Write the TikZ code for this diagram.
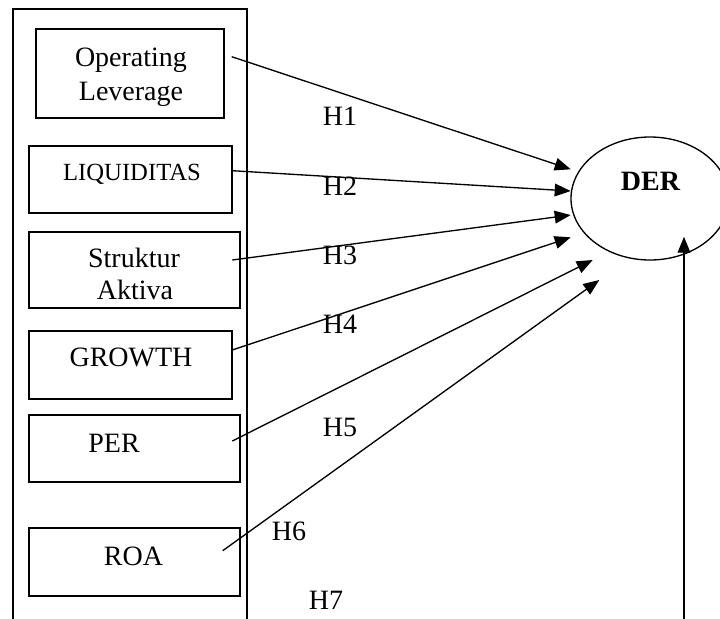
\documentclass[tikz,border=0pt]{standalone}
\usepackage{fontspec}
\setmainfont{Liberation Serif}
\usetikzlibrary{arrows.meta,fit,shapes.geometric}
\tikzset{
  varbox/.style={draw, line width=0.9pt, inner sep=0pt, rectangle},
  lbl/.style={anchor=base, inner sep=0pt, font=\fontsize{21pt}{25pt}\selectfont},
  smalllbl/.style={lbl, font=\fontsize{18.5pt}{22pt}\selectfont},
  hyp/.style={-{Triangle[length=12pt,width=9.5pt]}, line width=1pt},
}
\begin{document}
\begin{tikzpicture}[x=0.75pt,y=-0.75pt]
\useasboundingbox (0,0) rectangle (720,618);
\clip (0,0) rectangle (720,618);

% frame around the independent variables, open at the bottom
\draw[line width=1pt] (13,640) -- (13,9) -- (247,9) -- (247,640);

% independent variable boxes
\node[varbox, fit={(36,29) (224,118)}] (ol) {};
\node[varbox, fit={(29,146) (232,213)}] (liq) {};
\node[varbox, fit={(29,232) (240,308)}] (sa) {};
\node[varbox, fit={(29,331) (232,399)}] (gr) {};
\node[varbox, fit={(29,415) (240,482)}] (per) {};
\node[varbox, fit={(29,528) (240,596)}] (roa) {};

% box texts
\node[lbl] (olA) at (131,66.7) {Operating};
\node[lbl] (olB) at (131,100) {Leverage};
\node[smalllbl] (liqT) at (132,180) {LIQUIDITAS};
\node[lbl] (saA) at (134,267.7) {Struktur};
\node[lbl] (saB) at (135,299) {Aktiva};
\node[lbl] (grT) at (131,366.7) {GROWTH};
\node[lbl] (perT) at (114,452.7) {PER};
\node[lbl] (roaT) at (133.5,565.7) {ROA};

% dependent variable
\node[draw, ellipse, line width=1pt, minimum width=118.5pt, minimum height=92.25pt, inner sep=0pt] (der) at (650,198.5) {};
\node[lbl, font=\fontsize{21pt}{25pt}\selectfont\bfseries] (derT) at (650.5,190.7) {DER};

% arrow end points
\coordinate (s1) at (231.7,56.7);   \coordinate (t1) at (570.7,169.3);
\coordinate (s2) at (232.3,170.7);  \coordinate (t2) at (570.7,191);
\coordinate (s3) at (232.3,260);    \coordinate (t3) at (570.7,215);
\coordinate (s4) at (232.3,350);    \coordinate (t4) at (570.7,237.3);
\coordinate (s5) at (232.3,441);    \coordinate (t5) at (592.7,260);
\coordinate (s6) at (222.7,550.7);  \coordinate (t6) at (599.3,280);
\coordinate (s7) at (684,640);      \coordinate (t7) at (684,236.7);

\draw[hyp] (s1) -- (t1);
\draw[hyp] (s2) -- (t2);
\draw[hyp] (s3) -- (t3);
\draw[hyp] (s4) -- (t4);
\draw[hyp] (s5) -- (t5);
\draw[hyp] (s6) -- (t6);
\draw[hyp] (s7) -- (t7);

% hypothesis labels
\node[lbl] (h1) at (340,125) {H1};
\node[lbl] (h2) at (340,195) {H2};
\node[lbl] (h3) at (340,264) {H3};
\node[lbl] (h4) at (340,333) {H4};
\node[lbl] (h5) at (340,436.7) {H5};
\node[lbl] (h6) at (289,540.7) {H6};
\node[lbl] (h7) at (326,609) {H7};
\end{tikzpicture}
\end{document}
